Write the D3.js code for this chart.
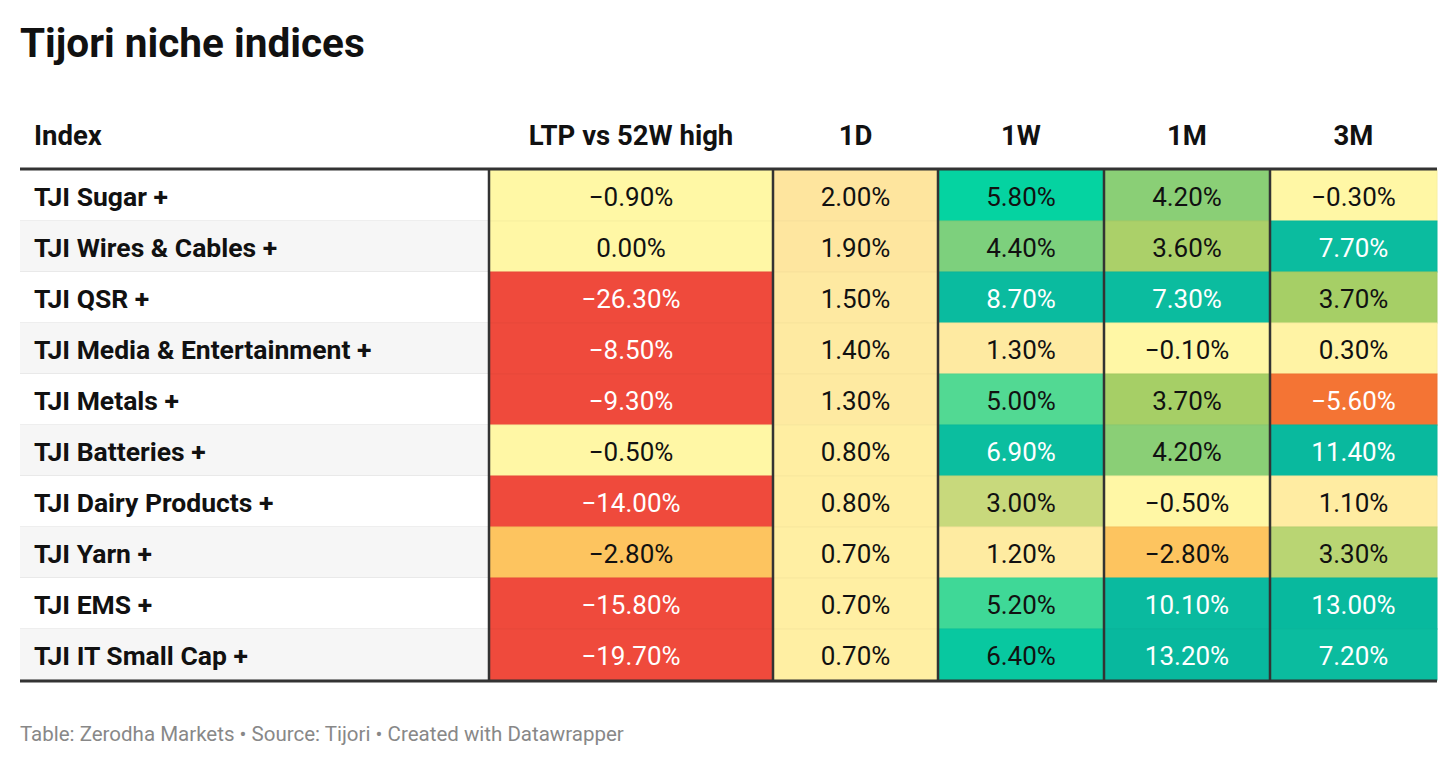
<!DOCTYPE html>
<html><head><meta charset="utf-8">
<script src="https://cdn.jsdelivr.net/npm/d3@7"></script>
<style>body{margin:0;background:#fff;font-family:Roboto,sans-serif}</style>
</head><body><svg id="chart"></svg>
<script>
// Data
const indices = ["TJI Sugar +", "TJI Wires & Cables +", "TJI QSR +", "TJI Media & Entertainment +",
  "TJI Metals +", "TJI Batteries +", "TJI Dairy Products +", "TJI Yarn +", "TJI EMS +", "TJI IT Small Cap +"];
const columns = ["LTP vs 52W high", "1D", "1W", "1M", "3M"];
const ltp = [-0.9, 0.0, -26.3, -8.5, -9.3, -0.5, -14.0, -2.8, -15.8, -19.7];
const d1 = [2.0, 1.9, 1.5, 1.4, 1.3, 0.8, 0.8, 0.7, 0.7, 0.7];
const w1 = [5.8, 4.4, 8.7, 1.3, 5.0, 6.9, 3.0, 1.2, 5.2, 6.4];
const m1 = [4.2, 3.6, 7.3, -0.1, 3.7, 4.2, -0.5, -2.8, 10.1, 13.2];
const m3 = [-0.3, 7.7, 3.7, 0.3, -5.6, 11.4, 1.1, 3.3, 13.0, 7.2];
const series = [ltp, d1, w1, m1, m3];

const width = 1456, height = 766;
const svg = d3.select("#chart").attr("width", width).attr("height", height);

// Layout
const colEdges = [20, 489, 773, 938, 1104, 1270, 1437];
const tableTop = 170, rowH = 51;
const y = d3.scaleBand().domain(d3.range(indices.length)).range([tableTop, tableTop + rowH * indices.length]);

// Color scale
const color = d3.scaleLinear()
  .domain([-8, -5.6, -2.8, -1.5, 0, 0.5, 1.8, 2.2, 3, 3.7, 4.3, 5, 5.8, 7, 14])
  .range(["#ef4a3c", "#f47434", "#fdc45f", "#fff8a5", "#fff7a5", "#fff0a3", "#fee7a0", "#fde39c", "#c8d97c", "#a6cf66",
          "#84cf79", "#52d993", "#05d3a1", "#0bbc9f", "#08b89e"])
  .clamp(true);

svg.append("text").attr("x", 20).attr("y", 57).text("Tijori niche indices")
  .attr("font-size", 40.5).attr("font-weight", 700).attr("fill", "#111");

// Header
svg.append("text").attr("x", 34).attr("y", 145).text("Index")
  .attr("font-size", 27.5).attr("font-weight", 700).attr("fill", "#111");
columns.forEach((c, i) => {
  svg.append("text").attr("x", (colEdges[i + 1] + colEdges[i + 2]) / 2).attr("y", 145)
    .attr("text-anchor", "middle").text(c)
    .attr("font-size", 27.5).attr("font-weight", 700).attr("fill", "#111");
});

// Rows
const rows = svg.append("g").selectAll("g").data(indices).join("g");
rows.append("rect").attr("x", colEdges[0]).attr("width", colEdges[1] - colEdges[0])
  .attr("y", (d, i) => y(i)).attr("height", rowH)
  .attr("fill", (d, i) => i % 2 ? "#f6f6f6" : "#fff");
rows.append("line").attr("x1", colEdges[0]).attr("x2", colEdges[1])
  .attr("y1", (d, i) => y(i) + rowH).attr("y2", (d, i) => y(i) + rowH)
  .attr("stroke", "#dcdcdc");
rows.append("text").attr("x", 34).attr("y", (d, i) => y(i) + rowH / 2 + 10)
  .text(d => d).attr("font-size", 26.5).attr("font-weight", 700).attr("fill", "#111");

series.forEach((vals, c) => {
  const x0 = colEdges[c + 1], x1 = colEdges[c + 2];
  const g = svg.append("g");
  g.selectAll("rect").data(vals).join("rect")
    .attr("x", x0).attr("width", x1 - x0)
    .attr("y", (d, i) => y(i)).attr("height", rowH)
    .attr("fill", d => color(d))
    .attr("stroke", d => d3.color(color(d)).darker(0.08)).attr("stroke-width", 1);
  g.selectAll("text").data(vals).join("text")
    .attr("x", (x0 + x1) / 2).attr("y", (d, i) => y(i) + rowH / 2 + 10)
    .attr("text-anchor", "middle")
    .text(d => (d < 0 ? "\u2212" : "") + Math.abs(d).toFixed(2) + "%")
    .attr("font-size", 26)
    .attr("fill", d => (d <= -5 || d >= 6.8) ? "#fff" : "#111");
});

// Column dividers
colEdges.slice(1, 6).forEach(x => {
  svg.append("line").attr("x1", x).attr("x2", x).attr("y1", tableTop).attr("y2", tableTop + rowH * indices.length)
    .attr("stroke", "#333").attr("stroke-width", 2.5);
});
// Thick rules
[tableTop - 1, tableTop + rowH * indices.length + 1].forEach(yy => {
  svg.append("line").attr("x1", colEdges[0]).attr("x2", colEdges[6]).attr("y1", yy).attr("y2", yy)
    .attr("stroke", "#333").attr("stroke-width", 3);
});

svg.append("text").attr("x", 20).attr("y", 741)
  .text("Table: Zerodha Markets \u2022 Source: Tijori \u2022 Created with Datawrapper")
  .attr("font-size", 20.5).attr("fill", "#888");
</script></body></html>
